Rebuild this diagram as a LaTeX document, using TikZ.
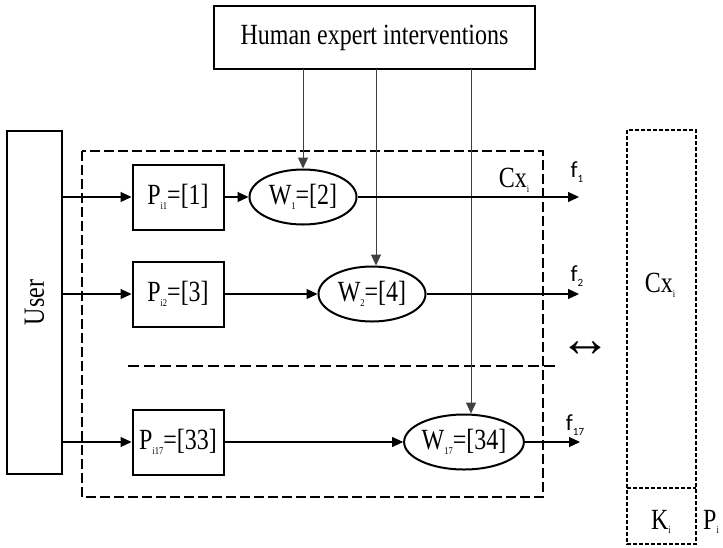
\documentclass[tikz,border=0pt]{standalone}
\usepackage{fontspec}
\setmainfont{Liberation Serif}
\newfontfamily\fsans{Carlito}
\usetikzlibrary{shapes.geometric,arrows.meta}
\newcommand\sbx[1]{\raisebox{-0.35ex}{\fontsize{8.5}{8.5}\selectfont #1}}
\newcommand\fsb[1]{\raisebox{-0.45ex}{\fontsize{11}{11}\selectfont #1}}
\newcommand\tall[1]{\scalebox{1}[1.22]{#1}}
\begin{document}
\begin{tikzpicture}[x=1pt,y=-1pt,
  txt/.style={font=\fontsize{24}{24}\selectfont},
  boxn/.style={draw,line width=2pt,rectangle,minimum width=91pt,minimum height=65pt,inner sep=0pt,txt},
  elln/.style={draw,line width=2pt,ellipse,minimum width=107pt,minimum height=55pt,inner sep=0pt,txt},
  arr/.style={-{Triangle[length=11pt,width=10pt]},line width=1.1pt},
  varr/.style={arr,draw=black!75,fill=black,line width=1pt},
  flab/.style={font=\fsans\fontsize{23}{23}\selectfont,inner sep=0pt},
  bigdash/.style={line width=2.2pt,dash pattern=on 10pt off 4pt},
  dotbox/.style={line width=2.5pt,dash pattern=on 4pt off 2pt}]
\useasboundingbox (0,0) rectangle (723,547);
% dashed container
\draw[bigdash] (82,151) rectangle (543,497);
\draw[line width=2.2pt,dash pattern=on 11pt off 5pt] (128,366) -- (557,366);
% right dotted box
\draw[dotbox] (627,130) rectangle (696,544);
\draw[dotbox] (627,488) -- (696,488);
% nodes
\node[draw,line width=2pt,minimum width=321pt,minimum height=63pt,inner sep=0pt,txt] (hx) at (374.5,37.5) {\tall{Human expert interventions}};
\node[draw,line width=2pt,minimum width=55pt,minimum height=343pt,inner sep=0pt,txt] (user) at (34.5,302.5) {\rotatebox{90}{\tall{User}}};
\node[boxn] (p1) at (178,197) {\tall{P\sbx{i1}=[1]}};
\node[boxn] (p2) at (178,294) {\tall{P\sbx{i2}=[3]}};
\node[boxn] (p17) at (178,442) {\tall{P\sbx{i17}=[33]}};
\node[elln] (w1) at (303,197) {\tall{W\sbx{1}=[2]}};
\node[elln] (w2) at (372,294) {\tall{W\sbx{2}=[4]}};
\node[elln] (w17) at (464,442) {\tall{W\sbx{17}=[34]}};
\coordinate (t1) at (579,197);
\coordinate (t2) at (579,294);
\coordinate (t17) at (580,442);
\coordinate (e1) at (303,69);
\coordinate (e2) at (376,69);
\coordinate (e17) at (471,69);
% connectors
\draw[varr] (e1) -- (w1.north);
\draw[varr] (e2) -- (e2 |- w2.north);
\draw[varr] (e17) -- (e17 |- w17.north);
\draw[arr] (user.east |- p1.west) -- (p1.west);
\draw[arr] (user.east |- p2.west) -- (p2.west);
\draw[arr] (user.east |- p17.west) -- (p17.west);
\draw[arr] (p1.east) -- (w1.west);
\draw[arr] (p2.east) -- (w2.west);
\draw[arr] (p17.east) -- (w17.west);
\draw[arr] (w1.east) -- (t1);
\draw[arr] (w2.east) -- (t2);
\draw[arr] (w17.east) -- (t17);
% labels
\node[flab] (f1) at (577,172) {f\fsb{1}};
\node[flab] (f2) at (577,276) {f\fsb{2}};
\node[flab] (f17) at (575,425) {f\fsb{17}};
\node[txt,inner sep=0pt] (cx1) at (514,180) {\tall{Cx\sbx{i}}};
\node[txt,inner sep=0pt] (cx2) at (660,285) {\tall{Cx\sbx{i}}};
\node[txt,inner sep=0pt] (ki) at (661,522) {\tall{K\sbx{i}}};
\node[txt,inner sep=0pt,anchor=west] (pi) at (703,522) {\tall{P\sbx{i}}};
\node[font=\fontsize{52}{52}\selectfont,inner sep=0pt] (lr) at (585,349) {↔};
\end{tikzpicture}
\end{document}
